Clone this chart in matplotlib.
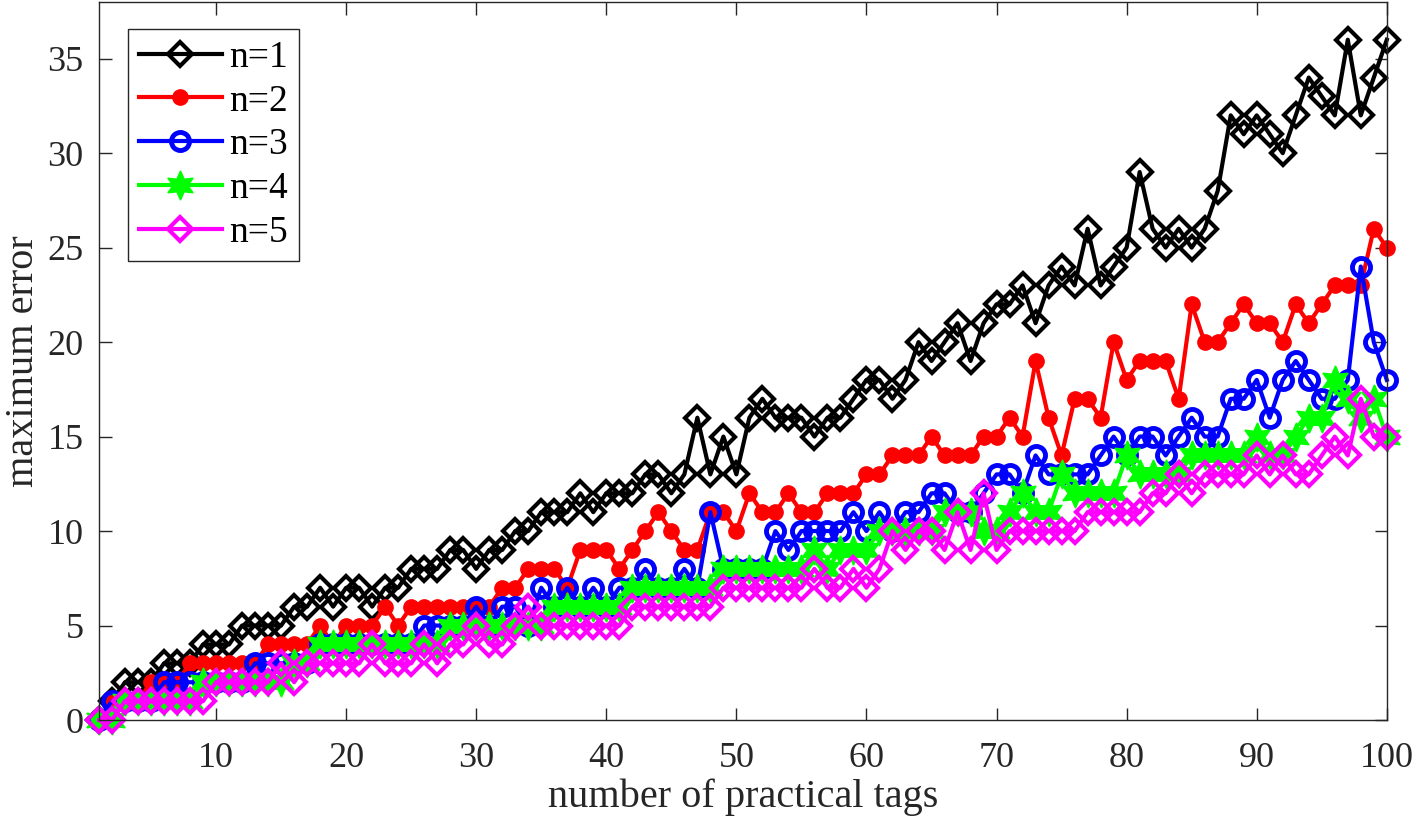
import numpy as np
import matplotlib
matplotlib.use('Agg')
import matplotlib.pyplot as plt

plt.rcParams['font.family'] = ['Liberation Serif', 'DejaVu Serif']
plt.rcParams['mathtext.fontset'] = 'stix'

tags = np.arange(1, 101)

err_n1 = [0, 1, 2, 2, 2, 3, 3, 3, 4, 4,
          4, 5, 5, 5, 5, 6, 6, 7, 6, 7,
          7, 6, 7, 7, 8, 8, 8, 9, 9, 8,
          9, 9, 10, 10, 11, 11, 11, 12, 11, 12,
          12, 12, 13, 13, 12, 13, 16, 13, 15, 13,
          16, 17, 16, 16, 16, 15, 16, 16, 17, 18,
          18, 17, 18, 20, 19, 20, 21, 19, 21, 22,
          22, 23, 21, 23, 24, 23, 26, 23, 24, 25,
          29, 26, 25, 26, 25, 26, 28, 32, 31, 32,
          31, 30, 32, 34, 33, 32, 36, 32, 34, 36]

err_n2 = [0, 1, 1, 1, 2, 2, 2, 3, 3, 3,
          3, 3, 3, 4, 4, 4, 4, 5, 4, 5,
          5, 5, 6, 5, 6, 6, 6, 6, 6, 6,
          6, 7, 7, 8, 8, 8, 7, 9, 9, 9,
          8, 9, 10, 11, 10, 9, 9, 11, 11, 10,
          12, 11, 11, 12, 11, 11, 12, 12, 12, 13,
          13, 14, 14, 14, 15, 14, 14, 14, 15, 15,
          16, 15, 19, 16, 14, 17, 17, 16, 20, 18,
          19, 19, 19, 17, 22, 20, 20, 21, 22, 21,
          21, 20, 22, 21, 22, 23, 23, 23, 26, 25]

err_n3 = [0, 1, 1, 1, 1, 2, 2, 2, 2, 2,
          2, 2, 3, 3, 3, 3, 3, 4, 4, 4,
          4, 4, 4, 4, 4, 5, 5, 5, 5, 6,
          5, 6, 6, 5, 7, 6, 7, 6, 7, 6,
          7, 7, 8, 7, 7, 8, 7, 11, 8, 8,
          8, 8, 10, 9, 10, 10, 10, 10, 11, 10,
          11, 10, 11, 11, 12, 12, 11, 11, 12, 13,
          13, 12, 14, 13, 13, 13, 13, 14, 15, 14,
          15, 15, 14, 15, 16, 15, 15, 17, 17, 18,
          16, 18, 19, 18, 17, 17, 18, 24, 20, 18]

err_n4 = [0, 0, 1, 1, 1, 1, 1, 1, 2, 2,
          2, 2, 2, 2, 2, 3, 3, 4, 4, 4,
          4, 4, 4, 4, 4, 4, 4, 5, 5, 5,
          5, 5, 5, 5, 5, 6, 6, 6, 6, 6,
          6, 7, 7, 7, 7, 7, 7, 7, 8, 8,
          8, 8, 8, 8, 8, 9, 8, 9, 9, 9,
          10, 10, 10, 10, 10, 11, 11, 11, 10, 10,
          11, 12, 11, 11, 13, 12, 12, 12, 12, 14,
          13, 13, 13, 13, 14, 14, 14, 14, 14, 15,
          14, 14, 15, 16, 16, 18, 17, 16, 17, 15]

err_n5 = [0, 0, 1, 1, 1, 1, 1, 1, 1, 2,
          2, 2, 2, 2, 3, 2, 3, 3, 3, 3,
          3, 4, 3, 3, 3, 4, 3, 4, 4, 5,
          4, 4, 5, 6, 5, 5, 5, 5, 5, 5,
          5, 6, 6, 6, 6, 6, 6, 6, 7, 7,
          7, 7, 7, 7, 7, 8, 7, 7, 8, 7,
          8, 10, 9, 10, 10, 9, 11, 9, 12, 9,
          10, 10, 10, 10, 10, 10, 11, 11, 11, 11,
          11, 12, 12, 13, 12, 13, 13, 13, 13, 14,
          13, 14, 13, 13, 14, 15, 14, 17, 15, 15]

labels = ['n=1', 'n=2', 'n=3', 'n=4', 'n=5']

hexagram = (6, 1, 0)

fig = plt.figure(figsize=(14.18, 8.26), dpi=100)
ax = fig.add_axes([0.0698, 0.1283, 0.9082, 0.8693])

ax.plot(tags, err_n1, '-', color='k', lw=3, marker='D', ms=12,
        mfc='none', mec='k', mew=3, label=labels[0], clip_on=False)
ax.plot(tags, err_n2, '-', color='r', lw=3, marker='o', ms=11,
        mfc='r', mec='r', mew=1, label=labels[1], clip_on=False)
ax.plot(tags, err_n3, '-', color='b', lw=3, marker='o', ms=13,
        mfc='none', mec='b', mew=3.5, label=labels[2], clip_on=False)
ax.plot(tags, err_n4, '-', color='#00ff00', lw=3, marker=hexagram, ms=21,
        mfc='#00ff00', mec='#00ff00', mew=1, label=labels[3], clip_on=False)
ax.plot(tags, err_n5, '-', color='#ff00ff', lw=3, marker='D', ms=12,
        mfc='none', mec='#ff00ff', mew=3, label=labels[4], clip_on=False)

ax.set_xlim(1, 100)
ax.set_ylim(0, 38)
ax.set_xticks(range(10, 101, 10))
ax.set_yticks(range(0, 36, 5))
ax.tick_params(direction='in', length=9, width=1, top=True, right=True,
               labelsize=26, colors='#262626')
ax.tick_params(axis='x', pad=16)
ax.tick_params(axis='y', pad=11)
for s in ax.spines.values():
    s.set_color('#262626')
    s.set_linewidth(1)

ax.set_xlabel('number of practical tags', fontsize=29, color='#262626', labelpad=2)
ax.set_ylabel('maximum error', fontsize=29, color='#262626', labelpad=4)

leg = ax.legend(loc='upper left', bbox_to_anchor=(0.0225, 0.9624), borderaxespad=0,
                fontsize=27, fancybox=False, edgecolor='#262626', framealpha=1,
                handlelength=2.2, handletextpad=0.2, labelspacing=0.25,
                borderpad=0.3, numpoints=1)
leg.get_frame().set_linewidth(1)
leg.set_zorder(5)

fig.savefig('out.png', dpi=100)
